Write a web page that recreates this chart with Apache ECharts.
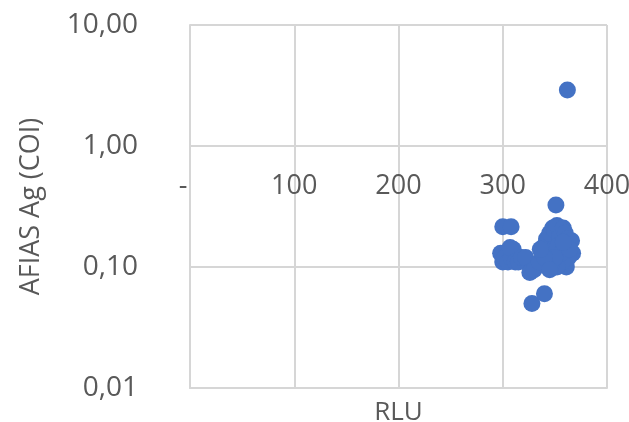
<!DOCTYPE html>
<html>
<head>
<meta charset="utf-8">
<script src="https://cdn.jsdelivr.net/npm/echarts@6/dist/echarts.min.js"></script>
<style>
  html, body { margin: 0; padding: 0; background: #fff; }
  #chart { width: 629px; height: 422px; }
</style>
</head>
<body>
<div id="chart"></div>
<script>
// RLU readings
const rlu = [
  298, 300, 302, 305, 308, 310, 307, 312, 315, 318, 322, 300, 308, 326, 330, 328, 340,
  335, 338, 340, 342, 345, 348, 350, 352, 355, 358, 360, 362, 366, 367, 363, 361, 357,
  352, 346, 344, 348, 353, 356, 350, 340, 336, 345, 351, 362, 364, 358
];
// AFIAS Ag results (COI)
const coi = [
  0.13, 0.11, 0.12, 0.11, 0.12, 0.14, 0.145, 0.11, 0.11, 0.12, 0.12, 0.215, 0.215, 0.09, 0.095, 0.05, 0.06,
  0.11, 0.13, 0.15, 0.17, 0.19, 0.21, 0.20, 0.22, 0.18, 0.21, 0.19, 0.17, 0.165, 0.13, 0.12, 0.10, 0.11,
  0.10, 0.10, 0.12, 0.14, 0.15, 0.13, 0.12, 0.12, 0.14, 0.095, 0.325, 2.9, 0.14, 0.16
];
const xTicks = [0, 100, 200, 300, 400];
const yTicks = [0.01, 0.1, 1, 10];

const points = rlu.map((x, i) => [x, coi[i]]);

const gridColor = '#d6d6d6';
const textColor = '#595959';
const font = '"Open Sans", sans-serif';

const chart = echarts.init(document.getElementById('chart'));
chart.setOption({
  animation: false,
  backgroundColor: '#ffffff',
  grid: { left: 190, top: 25, right: 22, bottom: 34, outerBoundsMode: 'none' },
  xAxis: [
    {
      type: 'value', min: xTicks[0], max: xTicks[xTicks.length - 1], interval: 100,
      position: 'bottom',
      name: 'RLU', nameLocation: 'middle', nameGap: 12,
      nameTextStyle: { color: textColor, fontSize: 26, fontFamily: font },
      axisLine: { show: true, lineStyle: { color: gridColor, width: 2 } },
      axisTick: { show: false },
      axisLabel: { show: false },
      splitLine: { show: true, lineStyle: { color: gridColor, width: 2 } }
    },
    {
      // horizontal axis crossing at 1,00
      type: 'value', min: xTicks[0], max: xTicks[xTicks.length - 1], interval: 100,
      position: 'bottom', offset: -242,
      axisLine: { show: true, lineStyle: { color: gridColor, width: 2 } },
      axisTick: { show: false },
      splitLine: { show: false },
      axisLabel: {
        color: textColor, fontSize: 27, fontFamily: font, margin: 27,
        formatter: v => (v === 0 ? '-  ' : String(v))
      }
    }
  ],
  yAxis: {
    type: 'log', logBase: 10, min: yTicks[0], max: yTicks[yTicks.length - 1],
    name: 'AFIAS Ag (COI)', nameLocation: 'middle', nameGap: 145, nameRotate: 90,
    nameTextStyle: { color: textColor, fontSize: 27, fontFamily: font },
    axisLine: { show: true, lineStyle: { color: gridColor, width: 2 } },
    axisTick: { show: false },
    axisLabel: {
      color: textColor, fontSize: 28, fontFamily: font, margin: 52,
      formatter: v => v.toFixed(2).replace('.', ',')
    },
    splitLine: { show: true, lineStyle: { color: gridColor, width: 2 } }
  },
  series: [{
    type: 'scatter',
    xAxisIndex: 0,
    data: points,
    symbolSize: 17,
    itemStyle: { color: '#4472C4', opacity: 1 }
  }]
});
</script>
</body>
</html>
